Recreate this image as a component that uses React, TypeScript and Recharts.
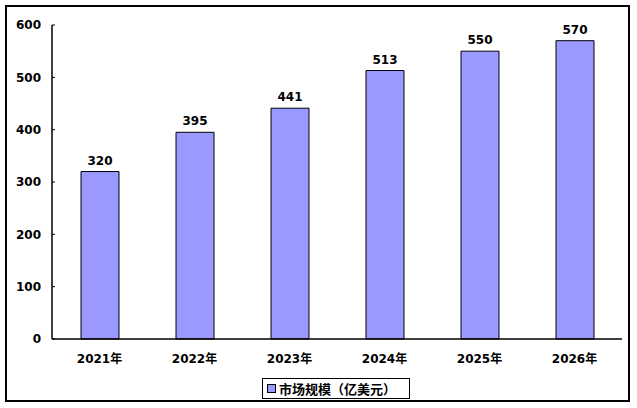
import React from 'react';
import { BarChart, Bar, XAxis, YAxis, Legend, LabelList } from 'recharts';

const years = ['2021年', '2022年', '2023年', '2024年', '2025年', '2026年'];
const values = [320, 395, 441, 513, 550, 570];
const yTicks = [0, 100, 200, 300, 400, 500, 600];
const boundaryTicks = [0, 1, 2, 3, 4, 5, 6];
const seriesName = '市场规模（亿美元）';

const data = years.map((y, i) => ({ year: y, value: values[i], pos: i + 0.5 }));

const FONT = "'DejaVu Sans', 'Noto Sans CJK SC', sans-serif";
const BAR_FILL = '#9999FF';
const Y_MARGIN = 11;

const LegendContent = () => (
  <div
    style={{
      boxSizing: 'border-box',
      width: 148,
      height: 21,
      border: '1.5px solid #000',
      display: 'flex',
      alignItems: 'center',
      paddingLeft: 4,
      fontFamily: FONT,
      fontWeight: 'bold',
      fontSize: 13,
      color: '#000',
      background: '#fff',
    }}
  >
    <span
      style={{
        display: 'inline-block',
        boxSizing: 'border-box',
        width: 9,
        height: 9,
        background: BAR_FILL,
        border: '1px solid #000',
        marginRight: 3,
      }}
    />
    <span style={{ whiteSpace: 'nowrap' }}>{seriesName}</span>
  </div>
);

const BoundTick = (props: any) => {
  const { x, y } = props;
  return <line x1={x} x2={x} y1={y} y2={y - 4} stroke="#000" strokeWidth={1} />;
};

const YTick = (props: any) => {
  const { x, y, payload } = props;
  const ax = x + Y_MARGIN;
  return (
    <g>
      <line x1={ax} x2={ax + 3} y1={y} y2={y} stroke="#000" strokeWidth={1} />
      <text
        x={x}
        y={y}
        dy="0.355em"
        textAnchor="end"
        fill="#000"
        fontSize={12}
        fontWeight="bold"
        fontFamily={FONT}
      >
        {payload.value}
      </text>
    </g>
  );
};

export default function App() {
  return (
    <div style={{ position: 'absolute', left: 0, top: 0, width: 637, height: 408, background: '#fff' }}>
      <div
        style={{
          position: 'absolute',
          left: 5,
          top: 5,
          width: 625,
          height: 397,
          boxSizing: 'border-box',
          border: '2px solid #000',
        }}
      />
      <div style={{ position: 'absolute', left: 0, top: 0 }}>
        <BarChart
          width={637}
          height={408}
          data={data}
          margin={{ top: 25, right: 15, bottom: 9, left: 0 }}
        >
          <XAxis
            xAxisId="bounds"
            type="number"
            dataKey="pos"
            domain={[0, 6]}
            ticks={boundaryTicks}
            orientation="bottom"
            height={0}
            axisLine={false}
            tickSize={0}
            tickMargin={0}
            tickLine={false}
            tick={<BoundTick />}
            interval={0}
          />
          <XAxis
            xAxisId="main"
            dataKey="year"
            height={39}
            axisLine={{ stroke: '#000', strokeWidth: 1.5 }}
            tickLine={false}
            tickMargin={9}
            interval={0}
            tick={{ fill: '#000', fontSize: 12, fontWeight: 'bold', fontFamily: FONT }}
          />
          <YAxis
            width={52}
            domain={[0, 600]}
            ticks={yTicks}
            interval={0}
            axisLine={{ stroke: '#000', strokeWidth: 1.5 }}
            tickSize={0}
            tickMargin={Y_MARGIN}
            tickLine={false}
            tick={<YTick />}
          />
          <Legend
            verticalAlign="bottom"
            content={<LegendContent />}
            wrapperStyle={{ left: 262, width: 148, height: 21, bottom: 9 }}
          />
          <Bar
            xAxisId="main"
            dataKey="value"
            name={seriesName}
            fill={BAR_FILL}
            stroke="#000"
            strokeWidth={1}
            barSize={38}
            isAnimationActive={false}
          >
            <LabelList
              dataKey="value"
              position="top"
              offset={7}
              style={{ fill: '#000', fontSize: 12, fontWeight: 'bold', fontFamily: FONT }}
            />
          </Bar>
        </BarChart>
      </div>
    </div>
  );
}
